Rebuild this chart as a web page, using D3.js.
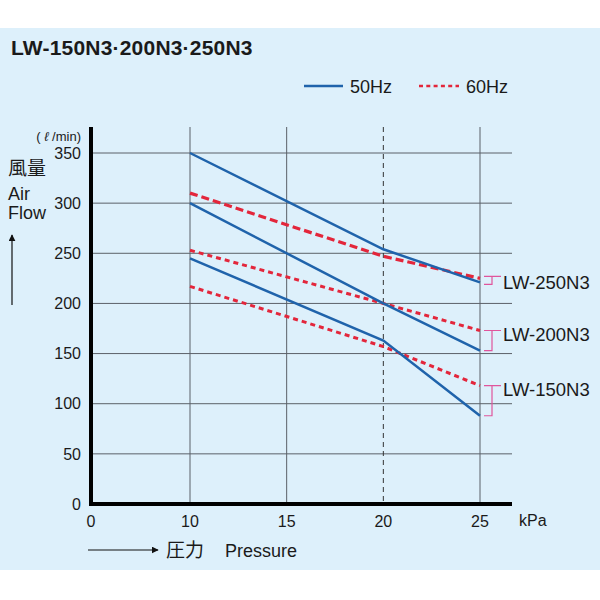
<!DOCTYPE html>
<html>
<head>
<meta charset="utf-8">
<script src="https://cdn.jsdelivr.net/npm/d3@7"></script>
<style>
  body { margin: 0; background: #fff; }
  text { font-family: "Liberation Sans", Arial, sans-serif; fill: #1a1a1a; }
  .cjk { font-family: "Noto Sans CJK JP", sans-serif; }
</style>
</head>
<body>
<script>
// data
const title = "LW-150N3·200N3·250N3";
const models = ["LW-250N3", "LW-200N3", "LW-150N3"];
const pressures = [10, 20, 25];                 // kPa
const flow50 = [[350, 254, 221], [300, 200, 153], [245, 163, 88]];   // l/min, 50Hz
const flow60 = [[310, 247, 225], [253, 200, 173], [217, 157, 118]];  // l/min, 60Hz
const dash60 = ["8,4", "5,4", "5,4"];
const xTicks = [0, 10, 15, 20, 25];
const yTicks = [0, 50, 100, 150, 200, 250, 300, 350];
const dashedX = 20;

const width = 600, height = 600;
const blue = "#1f63ab", red = "#e3263b", pink = "#e0559c", grid = "#5b6168";

const svg = d3.select("body").append("svg")
    .attr("width", width)
    .attr("height", height);

// panel background
svg.append("rect")
    .attr("x", 0).attr("y", 28)
    .attr("width", width).attr("height", 542)
    .attr("fill", "#ddf0fb");

// scales (0-10 is squeezed on the original axis)
const xScale = d3.scaleLinear().domain([0, 10, 25]).range([91, 190, 480]);
const yScale = d3.scaleLinear().domain([0, 350]).range([504, 153]);
const gridRight = 512, gridTop = 127;

// horizontal grid
svg.append("g")
    .selectAll("line")
    .data(yTicks.filter(d => d > 0))
    .join("line")
    .attr("x1", xScale(0)).attr("x2", gridRight)
    .attr("y1", d => yScale(d)).attr("y2", d => yScale(d))
    .attr("stroke", grid).attr("stroke-width", 1);

// vertical grid
svg.append("g")
    .selectAll("line")
    .data(xTicks.filter(d => d > 0))
    .join("line")
    .attr("x1", d => xScale(d)).attr("x2", d => xScale(d))
    .attr("y1", gridTop).attr("y2", yScale(0))
    .attr("stroke", d => d == dashedX ? "#333" : grid)
    .attr("stroke-width", 1)
    .attr("stroke-dasharray", d => d == dashedX ? "5,4" : null);

// thick axes
svg.append("line")
    .attr("x1", xScale(0)).attr("x2", xScale(0))
    .attr("y1", gridTop).attr("y2", yScale(0) + 2)
    .attr("stroke", "#000").attr("stroke-width", 4);
svg.append("line")
    .attr("x1", xScale(0) - 2).attr("x2", gridRight)
    .attr("y1", yScale(0)).attr("y2", yScale(0))
    .attr("stroke", "#000").attr("stroke-width", 4);

// tick labels
svg.append("g")
    .selectAll("text")
    .data(yTicks)
    .join("text")
    .attr("x", 81)
    .attr("y", d => yScale(d))
    .attr("dy", "0.36em")
    .attr("text-anchor", "end")
    .attr("font-size", 16)
    .text(d => d);

svg.append("g")
    .selectAll("text")
    .data(xTicks)
    .join("text")
    .attr("x", d => xScale(d))
    .attr("y", 527)
    .attr("text-anchor", "middle")
    .attr("font-size", 16)
    .text(d => d);

svg.append("text")
    .attr("x", 519).attr("y", 526)
    .attr("font-size", 16)
    .text("kPa");

// y axis caption
const unit = svg.append("text")
    .attr("x", 81).attr("y", 141)
    .attr("text-anchor", "end")
    .attr("font-size", 13);
unit.append("tspan").text("( ");
unit.append("tspan").attr("font-style", "italic").text("ℓ");
unit.append("tspan").text(" /min)");

svg.append("text").attr("class", "cjk")
    .attr("x", 8).attr("y", 175)
    .attr("font-size", 19)
    .text("風量");
svg.append("text")
    .attr("x", 8).attr("y", 200)
    .attr("font-size", 18)
    .text("Air");
svg.append("text")
    .attr("x", 8).attr("y", 219)
    .attr("font-size", 18)
    .text("Flow");

// arrows
svg.append("defs").append("marker")
    .attr("id", "head")
    .attr("viewBox", "0 0 10 10")
    .attr("refX", 9).attr("refY", 5)
    .attr("markerWidth", 7).attr("markerHeight", 7)
    .attr("markerUnits", "userSpaceOnUse")
    .attr("orient", "auto")
    .append("path")
    .attr("d", "M0,0L10,5L0,10Z")
    .attr("fill", "#111");

svg.append("line")
    .attr("x1", 12).attr("x2", 12)
    .attr("y1", 305).attr("y2", 235)
    .attr("stroke", "#111").attr("stroke-width", 1.2)
    .attr("marker-end", "url(#head)");
svg.append("line")
    .attr("x1", 88).attr("x2", 158)
    .attr("y1", 550).attr("y2", 550)
    .attr("stroke", "#111").attr("stroke-width", 1.2)
    .attr("marker-end", "url(#head)");

svg.append("text").attr("class", "cjk")
    .attr("x", 166).attr("y", 557)
    .attr("font-size", 19)
    .text("圧力");
svg.append("text")
    .attr("x", 225).attr("y", 557)
    .attr("font-size", 18)
    .text("Pressure");

// title
svg.append("text")
    .attr("x", 11).attr("y", 55)
    .attr("font-size", 21)
    .attr("font-weight", "bold")
    .attr("letter-spacing", 0.2)
    .attr("fill", "#111")
    .text(title);

// legend
svg.append("line")
    .attr("x1", 304).attr("x2", 343)
    .attr("y1", 86).attr("y2", 86)
    .attr("stroke", blue).attr("stroke-width", 2.5);
svg.append("text")
    .attr("x", 350).attr("y", 93)
    .attr("font-size", 18)
    .text("50Hz");
svg.append("line")
    .attr("x1", 419).attr("x2", 459)
    .attr("y1", 86).attr("y2", 86)
    .attr("stroke", red).attr("stroke-width", 2.5)
    .attr("stroke-dasharray", "4,3.3");
svg.append("text")
    .attr("x", 466).attr("y", 93)
    .attr("font-size", 18)
    .text("60Hz");

// curves
const line = d3.line()
    .x((d, i) => xScale(pressures[i]))
    .y(d => yScale(d));

const curves = svg.append("g");
models.forEach((m, k) => {
    curves.append("path")
        .attr("d", line(flow60[k]))
        .attr("fill", "none")
        .attr("stroke", red)
        .attr("stroke-width", k == 0 ? 3.2 : 3)
        .attr("stroke-dasharray", dash60[k]);
    curves.append("path")
        .attr("d", line(flow50[k]))
        .attr("fill", "none")
        .attr("stroke", blue)
        .attr("stroke-width", 2.5)
        .append("title").text(m);
});

// model brackets and labels
const last = pressures.length - 1;
const xEnd = xScale(pressures[last]);
models.forEach((m, k) => {
    let yTop = yScale(flow60[k][last]);
    let yBot = yScale(flow50[k][last]);
    if (yBot - yTop < 8) {
        const mid = (yTop + yBot) / 2;
        yTop = mid - 4;
        yBot = mid + 4;
    }
    const g = svg.append("g")
        .attr("fill", "none")
        .attr("stroke", pink)
        .attr("stroke-width", 1.2);
    g.append("path")
        .attr("d", `M${xEnd + 4},${yTop}H${xEnd + 21}M${xEnd + 12},${yTop}V${yBot}H${xEnd + 4}`);
    svg.append("text")
        .attr("x", xEnd + 23)
        .attr("y", yScale(flow60[k][last]) + 4)
        .attr("dy", "0.36em")
        .attr("font-size", 18.5)
        .text(m);
});
</script>
</body>
</html>
